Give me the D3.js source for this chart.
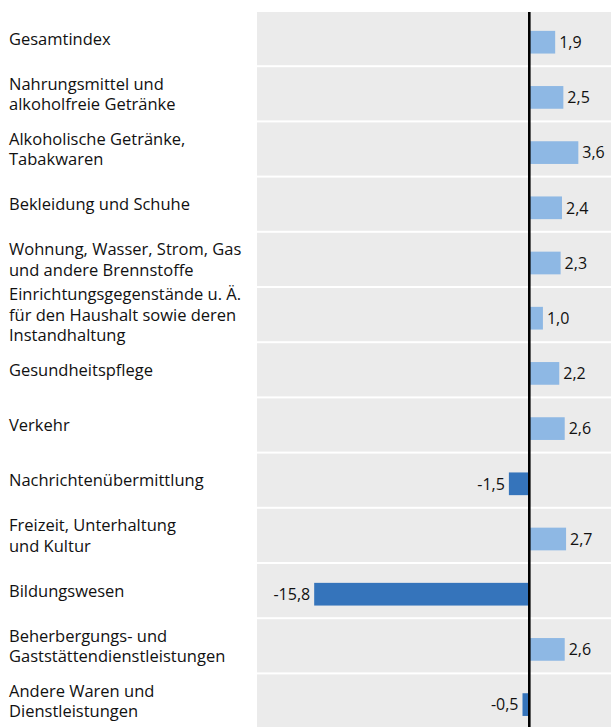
<!DOCTYPE html>
<html>
<head>
<meta charset="utf-8">
<script src="https://cdn.jsdelivr.net/npm/d3@7"></script>
<style>
  html, body { margin: 0; padding: 0; background: #fff; }
  svg { display: block; }
</style>
</head>
<body>
<svg id="chart" width="611" height="727"></svg>
<script>
// Categories (label lines) and year-on-year change in percent
const categories = [
  ["Gesamtindex"],
  ["Nahrungsmittel und", "alkoholfreie Getränke"],
  ["Alkoholische Getränke,", "Tabakwaren"],
  ["Bekleidung und Schuhe"],
  ["Wohnung, Wasser, Strom, Gas", "und andere Brennstoffe"],
  ["Einrichtungsgegenstände u. Ä.", "für den Haushalt sowie deren", "Instandhaltung"],
  ["Gesundheitspflege"],
  ["Verkehr"],
  ["Nachrichtenübermittlung"],
  ["Freizeit, Unterhaltung", "und Kultur"],
  ["Bildungswesen"],
  ["Beherbergungs- und", "Gaststättendienstleistungen"],
  ["Andere Waren und", "Dienstleistungen"]
];
const values = [1.9, 2.5, 3.6, 2.4, 2.3, 1.0, 2.2, 2.6, -1.5, 2.7, -15.8, 2.6, -0.5];
const xDomain = [-20, 6];

// German decimal comma, plain hyphen as minus sign
const fmt = v => d3.format(".1f")(v).replace("\u2212", "-").replace(".", ",");

const svg = d3.select("#chart");
const rows = categories.map((c, i) => ({ lines: c, value: values[i], key: i }));

const x = d3.scaleLinear().domain(xDomain).range([257, 611]);
const y = d3.scaleBand().domain(rows.map(r => r.key)).range([12, 12 + 13 * 55.2]);
const bw = y.bandwidth();
const barH = 22.7;
const barShift = 2.6;

// grey row panels separated by white gaps
svg.append("g").selectAll("rect").data(rows).join("rect")
  .attr("x", x.range()[0])
  .attr("y", d => y(d.key))
  .attr("width", x.range()[1] - x.range()[0])
  .attr("height", bw - 2)
  .attr("fill", "#ebebeb");

// bars
svg.append("g").selectAll("rect").data(rows).join("rect")
  .attr("x", d => x(Math.min(0, d.value)))
  .attr("y", d => y(d.key) + bw / 2 + barShift - barH / 2)
  .attr("width", d => Math.abs(x(d.value) - x(0)))
  .attr("height", barH)
  .attr("fill", d => d.value < 0 ? "#3574bb" : "#8eb8e4");

// zero line
svg.append("line")
  .attr("x1", x(0)).attr("x2", x(0))
  .attr("y1", y.range()[0]).attr("y2", 727)
  .attr("stroke", "#000").attr("stroke-width", 2.6);

// value labels
svg.append("g").selectAll("text").data(rows).join("text")
  .attr("x", d => d.value < 0 ? x(d.value) - 4 : x(d.value) + 4)
  .attr("y", d => y(d.key) + bw / 2 + barShift)
  .attr("dy", "0.36em")
  .attr("text-anchor", d => d.value < 0 ? "end" : "start")
  .attr("font-family", "Open Sans, sans-serif")
  .attr("font-size", 16)
  .attr("fill", "#111")
  .text(d => fmt(d.value));

// category labels, vertically centred in their row
const lineH = 20.5;
const lab = svg.append("g").selectAll("text").data(rows).join("text")
  .attr("font-family", "Open Sans, sans-serif")
  .attr("font-size", 16.5)
  .attr("fill", "#111")
  .attr("x", 9)
  .attr("y", d => y(d.key) + bw / 2 + 5 - (d.lines.length - 1) * lineH / 2)
  .attr("dy", "0.35em");
lab.selectAll("tspan").data(d => d.lines).join("tspan")
  .attr("x", 9)
  .attr("dy", (l, i) => i === 0 ? 0 : lineH)
  .text(l => l);
</script>
</body>
</html>
